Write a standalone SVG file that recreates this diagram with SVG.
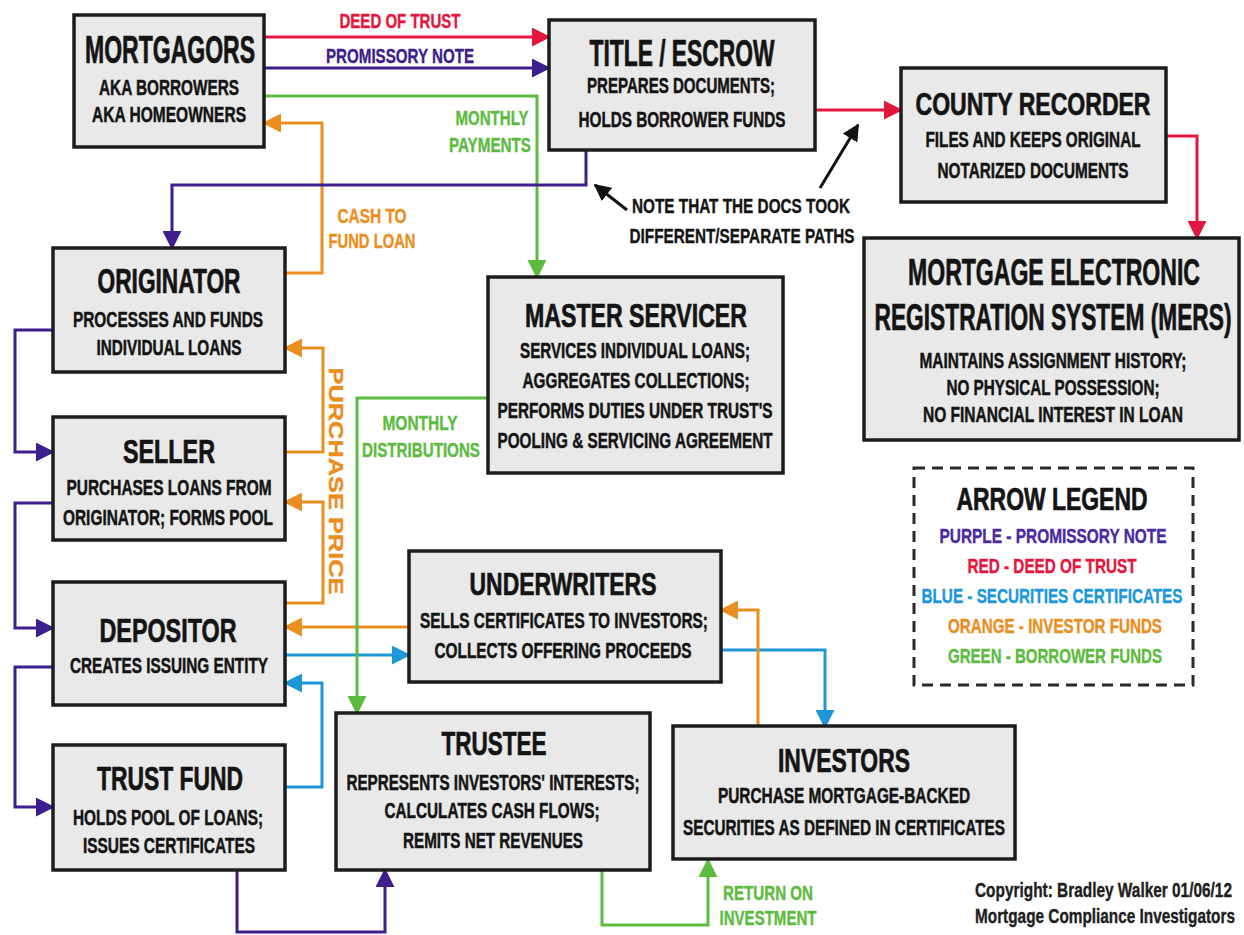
<svg xmlns="http://www.w3.org/2000/svg" width="1244" height="935" viewBox="0 0 1244 935">
<style>
.box{fill:#e9e9e9;stroke:#1c1c1c;stroke-width:3.5}
.t{font-family:'Liberation Sans Narrow','Liberation Sans',Arial,sans-serif;font-weight:bold;text-anchor:middle;fill:#141414;stroke:#141414;stroke-width:0.7}
.h{font-size:35px}
.s{font-size:22px;stroke-width:0.5}
.l{font-family:'Liberation Sans Narrow','Liberation Sans',Arial,sans-serif;font-weight:bold;text-anchor:middle;font-size:21px;stroke-width:0.4}
.c{fill:none;stroke-width:3;stroke-linejoin:miter}
.pu{stroke:#3c1e8c}.re{stroke:#e3173e}.gr{stroke:#5dbb3f}.or{stroke:#ea8f1f}.bl{stroke:#1c98d8}.bk{stroke:#111}
</style>
<defs>
<marker id="mpu" viewBox="0 0 10 10" refX="9" refY="5" markerWidth="19" markerHeight="19" markerUnits="userSpaceOnUse" orient="auto"><path d="M0,0 L10,5 L0,10 z" fill="#3c1e8c"/></marker>
<marker id="mre" viewBox="0 0 10 10" refX="9" refY="5" markerWidth="19" markerHeight="19" markerUnits="userSpaceOnUse" orient="auto"><path d="M0,0 L10,5 L0,10 z" fill="#e3173e"/></marker>
<marker id="mgr" viewBox="0 0 10 10" refX="9" refY="5" markerWidth="19" markerHeight="19" markerUnits="userSpaceOnUse" orient="auto"><path d="M0,0 L10,5 L0,10 z" fill="#5dbb3f"/></marker>
<marker id="mor" viewBox="0 0 10 10" refX="9" refY="5" markerWidth="19" markerHeight="19" markerUnits="userSpaceOnUse" orient="auto"><path d="M0,0 L10,5 L0,10 z" fill="#ea8f1f"/></marker>
<marker id="mbl" viewBox="0 0 10 10" refX="9" refY="5" markerWidth="19" markerHeight="19" markerUnits="userSpaceOnUse" orient="auto"><path d="M0,0 L10,5 L0,10 z" fill="#1c98d8"/></marker>
<marker id="mbk" viewBox="0 0 10 10" refX="9" refY="5" markerWidth="17" markerHeight="17" markerUnits="userSpaceOnUse" orient="auto"><path d="M0,0 L10,5 L0,10 z" fill="#111"/></marker>
</defs>
<rect width="1244" height="935" fill="#fff"/>

<g id="connectors">
<path class="c re" d="M264,37 H549" marker-end="url(#mre)"/>
<path class="c pu" d="M264,68 H549" marker-end="url(#mpu)"/>
<path class="c gr" d="M264,96 H537 V277" marker-end="url(#mgr)"/>
<path class="c or" d="M285,273 H322 V123 H264" marker-end="url(#mor)"/>
<path class="c pu" d="M586,150 V185 H172 V248" marker-end="url(#mpu)"/>
<path class="c re" d="M815,110 H901" marker-end="url(#mre)"/>
<path class="c re" d="M1166,136 H1197 V238" marker-end="url(#mre)"/>
<path class="c bk" d="M627,210 L595,185" marker-end="url(#mbk)"/>
<path class="c bk" d="M820,188 L858,125" marker-end="url(#mbk)"/>
<path class="c pu" d="M53,330 H15 V452 H53" marker-end="url(#mpu)"/>
<path class="c pu" d="M53,503 H15 V628 H53" marker-end="url(#mpu)"/>
<path class="c pu" d="M53,667 H15 V807 H53" marker-end="url(#mpu)"/>
<path class="c or" d="M285,452 H323 V348 H285" marker-end="url(#mor)"/>
<path class="c or" d="M285,603 H323 V502 H285" marker-end="url(#mor)"/>
<path class="c or" d="M409,627 H285" marker-end="url(#mor)"/>
<path class="c bl" d="M285,655 H409" marker-end="url(#mbl)"/>
<path class="c bl" d="M285,787 H322 V683 H285" marker-end="url(#mbl)"/>
<path class="c gr" d="M488,398 H357 V713" marker-end="url(#mgr)"/>
<path class="c pu" d="M237,870 V932 H385 V870" marker-end="url(#mpu)"/>
<path class="c bl" d="M721,650 H825 V727" marker-end="url(#mbl)"/>
<path class="c or" d="M758,727 V610 H721" marker-end="url(#mor)"/>
<path class="c gr" d="M602,870 V925 H708 V860" marker-end="url(#mgr)"/>
</g>

<g id="labels">
<text class="l" x="400" y="28" textLength="121" lengthAdjust="spacingAndGlyphs" fill="#e3173e" stroke="#e3173e">DEED OF TRUST</text>
<text class="l" x="400" y="63" textLength="148" lengthAdjust="spacingAndGlyphs" fill="#3c1e8c" stroke="#3c1e8c">PROMISSORY NOTE</text>
<text class="l" x="492" y="125" textLength="73" lengthAdjust="spacingAndGlyphs" fill="#5dbb3f" stroke="#5dbb3f">MONTHLY</text>
<text class="l" x="490" y="152" textLength="82" lengthAdjust="spacingAndGlyphs" fill="#5dbb3f" stroke="#5dbb3f">PAYMENTS</text>
<text class="l" x="372" y="223" textLength="69" lengthAdjust="spacingAndGlyphs" fill="#ea8f1f" stroke="#ea8f1f">CASH TO</text>
<text class="l" x="372" y="248" textLength="87" lengthAdjust="spacingAndGlyphs" fill="#ea8f1f" stroke="#ea8f1f">FUND LOAN</text>
<text class="l" x="741" y="213" textLength="218" lengthAdjust="spacingAndGlyphs" fill="#141414" stroke="#141414" font-size="22">NOTE THAT THE DOCS TOOK</text>
<text class="l" x="742" y="243" textLength="225" lengthAdjust="spacingAndGlyphs" fill="#141414" stroke="#141414" font-size="22">DIFFERENT/SEPARATE PATHS</text>
<text class="l" x="420" y="430" textLength="75" lengthAdjust="spacingAndGlyphs" fill="#5dbb3f" stroke="#5dbb3f">MONTHLY</text>
<text class="l" x="421" y="457" textLength="118" lengthAdjust="spacingAndGlyphs" fill="#5dbb3f" stroke="#5dbb3f">DISTRIBUTIONS</text>
<text class="l" transform="translate(329,481) rotate(90)" x="0" y="0" textLength="227" lengthAdjust="spacingAndGlyphs" fill="#ea8f1f" stroke="#ea8f1f" font-size="19">PURCHASE PRICE</text>
<text class="l" x="768" y="900" textLength="90" lengthAdjust="spacingAndGlyphs" fill="#5dbb3f" stroke="#5dbb3f">RETURN ON</text>
<text class="l" x="768" y="925" textLength="97" lengthAdjust="spacingAndGlyphs" fill="#5dbb3f" stroke="#5dbb3f">INVESTMENT</text>
<text class="l" x="1232" y="897" textLength="257" lengthAdjust="spacingAndGlyphs" fill="#1e1e1e" stroke="#1e1e1e" font-size="18" style="text-anchor:end">Copyright: Bradley Walker 01/06/12</text>
<text class="l" x="1235" y="923" textLength="260" lengthAdjust="spacingAndGlyphs" fill="#1e1e1e" stroke="#1e1e1e" font-size="18" style="text-anchor:end">Mortgage Compliance Investigators</text>
</g>

<g id="mortgagors">
<rect class="box" x="74" y="15" width="190" height="132"/>
<text class="t" x="170" y="63" font-size="38" textLength="170" lengthAdjust="spacingAndGlyphs">MORTGAGORS</text>
<text class="t s" x="169" y="95" textLength="140" lengthAdjust="spacingAndGlyphs">AKA BORROWERS</text>
<text class="t s" x="169" y="122" textLength="154" lengthAdjust="spacingAndGlyphs">AKA HOMEOWNERS</text>
</g>

<g id="title-escrow">
<rect class="box" x="549" y="20" width="266" height="130"/>
<text class="t" x="682" y="66" font-size="36" textLength="185" lengthAdjust="spacingAndGlyphs">TITLE / ESCROW</text>
<text class="t s" x="681" y="93" textLength="188" lengthAdjust="spacingAndGlyphs">PREPARES DOCUMENTS;</text>
<text class="t s" x="682" y="127" textLength="207" lengthAdjust="spacingAndGlyphs">HOLDS BORROWER FUNDS</text>
</g>

<g id="county-recorder">
<rect class="box" x="901" y="68" width="265" height="134"/>
<text class="t" x="1033" y="115" font-size="32" textLength="235" lengthAdjust="spacingAndGlyphs">COUNTY RECORDER</text>
<text class="t s" x="1033" y="147" textLength="215" lengthAdjust="spacingAndGlyphs">FILES AND KEEPS ORIGINAL</text>
<text class="t s" x="1033" y="178" textLength="191" lengthAdjust="spacingAndGlyphs">NOTARIZED DOCUMENTS</text>
</g>

<g id="mers">
<rect class="box" x="864" y="238" width="375" height="202"/>
<text class="t" x="1054" y="285" font-size="37" textLength="292" lengthAdjust="spacingAndGlyphs">MORTGAGE ELECTRONIC</text>
<text class="t" x="1053" y="330" font-size="37" textLength="357" lengthAdjust="spacingAndGlyphs">REGISTRATION SYSTEM (MERS)</text>
<text class="t s" x="1053" y="368" textLength="267" lengthAdjust="spacingAndGlyphs">MAINTAINS ASSIGNMENT HISTORY;</text>
<text class="t s" x="1053" y="395" textLength="213" lengthAdjust="spacingAndGlyphs">NO PHYSICAL POSSESSION;</text>
<text class="t s" x="1053" y="422" textLength="260" lengthAdjust="spacingAndGlyphs">NO FINANCIAL INTEREST IN LOAN</text>
</g>

<g id="legend">
<rect x="914" y="468" width="279" height="217" fill="#fff" stroke="#2a2a2a" stroke-width="3" stroke-dasharray="11 7"/>
<text class="t" x="1052" y="510" font-size="31" textLength="191" lengthAdjust="spacingAndGlyphs">ARROW LEGEND</text>
<text class="l" x="1053" y="543" font-size="21" textLength="227" lengthAdjust="spacingAndGlyphs" fill="#4a2a9e" stroke="#4a2a9e">PURPLE - PROMISSORY NOTE</text>
<text class="l" x="1052" y="573" font-size="21" textLength="169" lengthAdjust="spacingAndGlyphs" fill="#e3173e" stroke="#e3173e">RED - DEED OF TRUST</text>
<text class="l" x="1052" y="603" font-size="21" textLength="261" lengthAdjust="spacingAndGlyphs" fill="#1c98d8" stroke="#1c98d8">BLUE - SECURITIES CERTIFICATES</text>
<text class="l" x="1055" y="633" font-size="21" textLength="214" lengthAdjust="spacingAndGlyphs" fill="#ea8f1f" stroke="#ea8f1f">ORANGE - INVESTOR FUNDS</text>
<text class="l" x="1055" y="663" font-size="21" textLength="214" lengthAdjust="spacingAndGlyphs" fill="#5dbb3f" stroke="#5dbb3f">GREEN - BORROWER FUNDS</text>
</g>

<g id="master-servicer">
<rect class="box" x="488" y="277" width="295" height="196"/>
<text class="t" x="636" y="327" font-size="34" textLength="222" lengthAdjust="spacingAndGlyphs">MASTER SERVICER</text>
<text class="t s" x="635" y="358" textLength="230" lengthAdjust="spacingAndGlyphs">SERVICES INDIVIDUAL LOANS;</text>
<text class="t s" x="636" y="388" textLength="227" lengthAdjust="spacingAndGlyphs">AGGREGATES COLLECTIONS;</text>
<text class="t s" x="635" y="418" textLength="275" lengthAdjust="spacingAndGlyphs">PERFORMS DUTIES UNDER TRUST'S</text>
<text class="t s" x="635" y="448" textLength="275" lengthAdjust="spacingAndGlyphs">POOLING &amp; SERVICING AGREEMENT</text>
</g>

<g id="originator">
<rect class="box" x="53" y="248" width="232" height="124"/>
<text class="t h" x="169" y="293" textLength="143" lengthAdjust="spacingAndGlyphs">ORIGINATOR</text>
<text class="t s" x="168" y="327" textLength="190" lengthAdjust="spacingAndGlyphs">PROCESSES AND FUNDS</text>
<text class="t s" x="169" y="355" textLength="145" lengthAdjust="spacingAndGlyphs">INDIVIDUAL LOANS</text>
</g>

<g id="seller">
<rect class="box" x="53" y="417" width="232" height="123"/>
<text class="t" x="169" y="463" font-size="33" textLength="92" lengthAdjust="spacingAndGlyphs">SELLER</text>
<text class="t s" x="169" y="495" textLength="205" lengthAdjust="spacingAndGlyphs">PURCHASES LOANS FROM</text>
<text class="t s" x="168" y="525" textLength="210" lengthAdjust="spacingAndGlyphs">ORIGINATOR; FORMS POOL</text>
</g>

<g id="depositor">
<rect class="box" x="53" y="582" width="232" height="123"/>
<text class="t" x="168" y="642" font-size="34" textLength="137" lengthAdjust="spacingAndGlyphs">DEPOSITOR</text>
<text class="t s" x="169" y="673" textLength="198" lengthAdjust="spacingAndGlyphs">CREATES ISSUING ENTITY</text>
</g>

<g id="trust-fund">
<rect class="box" x="53" y="745" width="232" height="125"/>
<text class="t" x="170" y="790" font-size="34" textLength="146" lengthAdjust="spacingAndGlyphs">TRUST FUND</text>
<text class="t s" x="168" y="825" textLength="190" lengthAdjust="spacingAndGlyphs">HOLDS POOL OF LOANS;</text>
<text class="t s" x="169" y="853" textLength="172" lengthAdjust="spacingAndGlyphs">ISSUES CERTIFICATES</text>
</g>

<g id="underwriters">
<rect class="box" x="409" y="551" width="312" height="131"/>
<text class="t" x="563" y="595" font-size="32" textLength="187" lengthAdjust="spacingAndGlyphs">UNDERWRITERS</text>
<text class="t s" x="564" y="628" textLength="288" lengthAdjust="spacingAndGlyphs">SELLS CERTIFICATES TO INVESTORS;</text>
<text class="t s" x="563" y="658" textLength="257" lengthAdjust="spacingAndGlyphs">COLLECTS OFFERING PROCEEDS</text>
</g>

<g id="trustee">
<rect class="box" x="336" y="713" width="314" height="157"/>
<text class="t" x="494" y="755" font-size="34" textLength="105" lengthAdjust="spacingAndGlyphs">TRUSTEE</text>
<text class="t s" x="493" y="790" textLength="293" lengthAdjust="spacingAndGlyphs">REPRESENTS INVESTORS' INTERESTS;</text>
<text class="t s" x="492" y="818" textLength="215" lengthAdjust="spacingAndGlyphs">CALCULATES CASH FLOWS;</text>
<text class="t s" x="493" y="848" textLength="180" lengthAdjust="spacingAndGlyphs">REMITS NET REVENUES</text>
</g>

<g id="investors">
<rect class="box" x="673" y="726" width="342" height="133"/>
<text class="t" x="844" y="772" font-size="34" textLength="132" lengthAdjust="spacingAndGlyphs">INVESTORS</text>
<text class="t s" x="844" y="803" textLength="252" lengthAdjust="spacingAndGlyphs">PURCHASE MORTGAGE-BACKED</text>
<text class="t s" x="844" y="835" textLength="322" lengthAdjust="spacingAndGlyphs">SECURITIES AS DEFINED IN CERTIFICATES</text>
</g>
</svg>
